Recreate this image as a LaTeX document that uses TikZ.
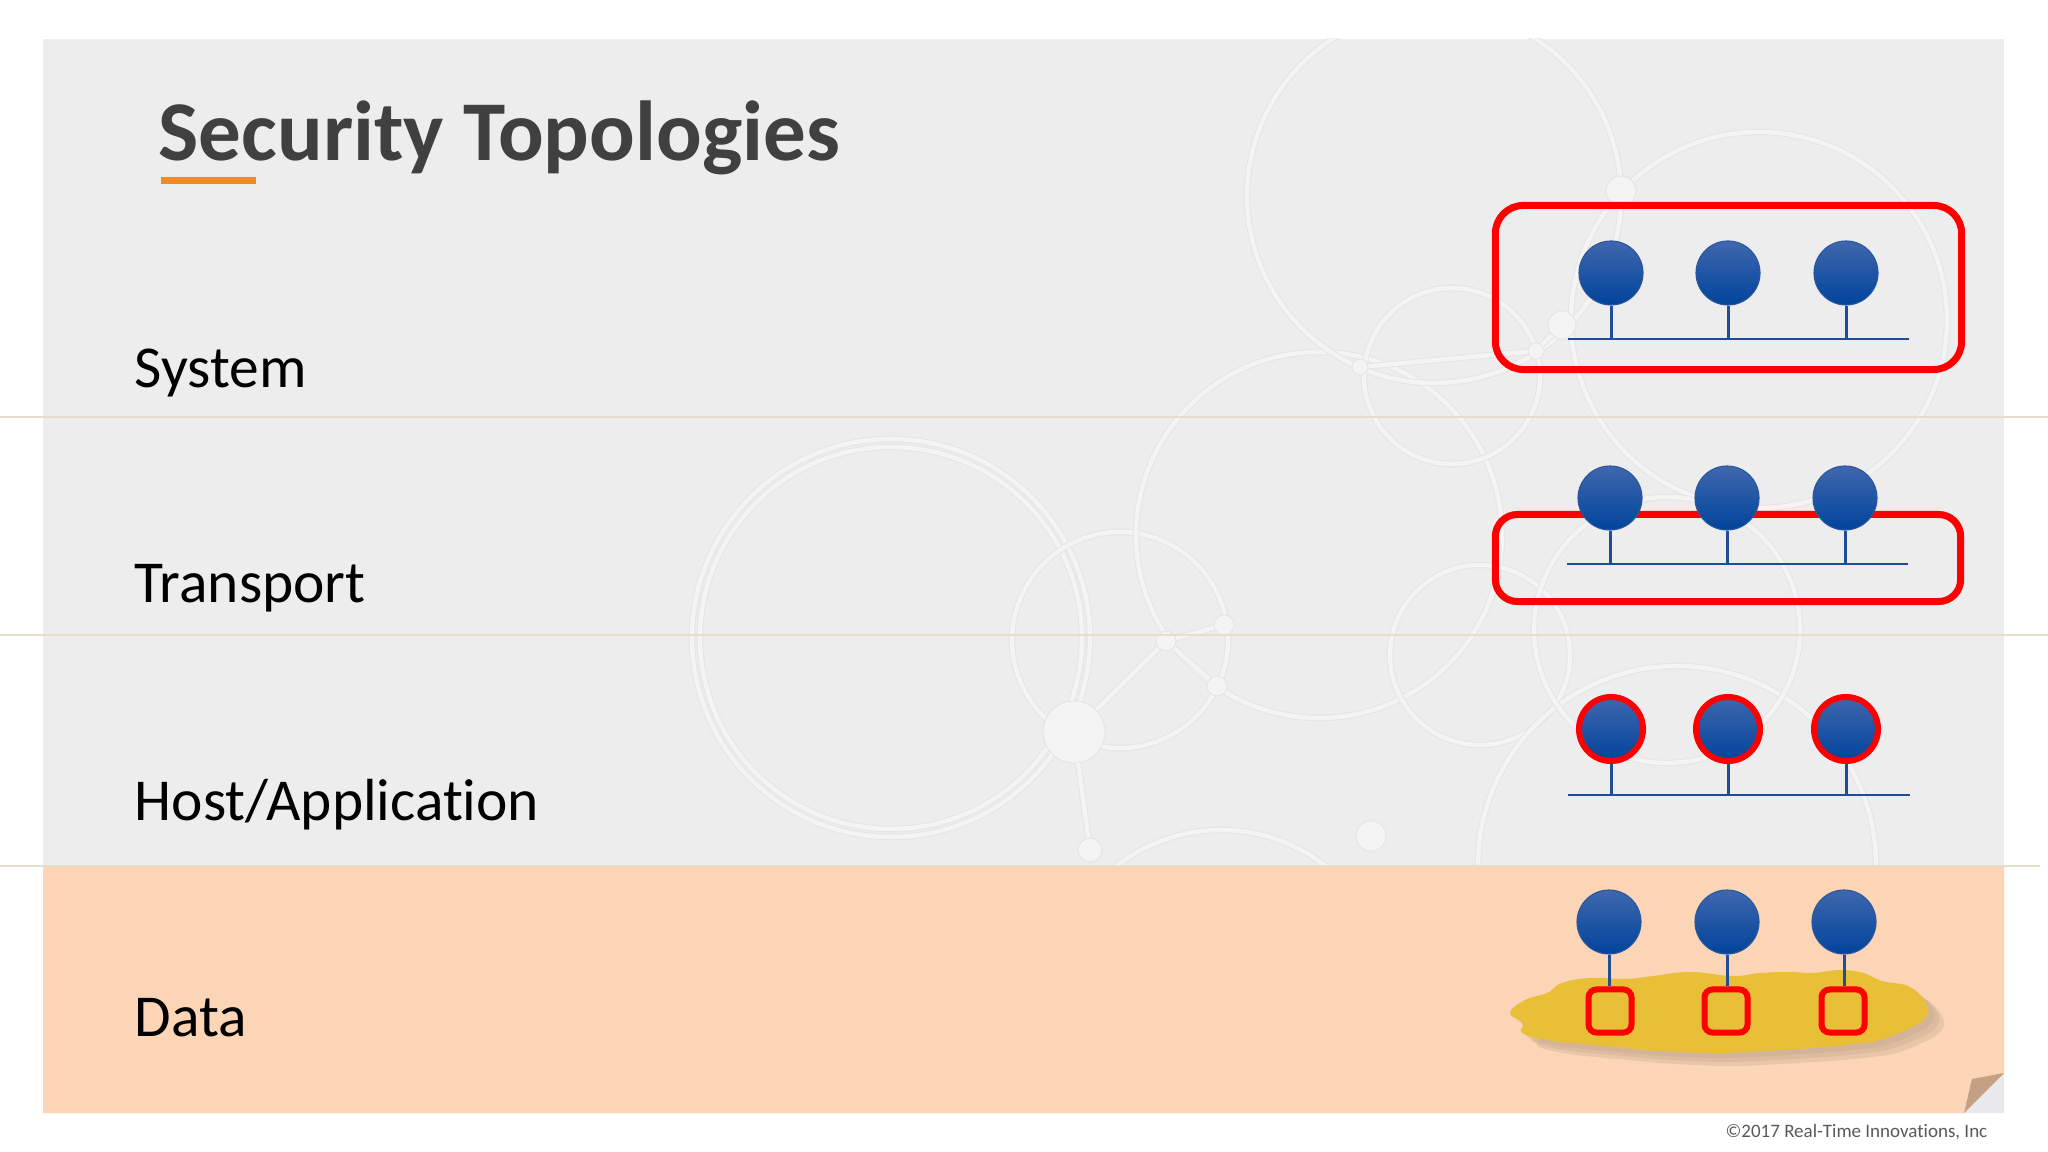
\documentclass[tikz,border=0pt]{standalone}
\usepackage{fontspec}
\setmainfont[Ligatures={NoCommon}]{Carlito}
\definecolor{panelgray}{HTML}{EDEDEE}
\definecolor{peach}{HTML}{FBD5B5}
\definecolor{sepline}{HTML}{E6DEC8}
\definecolor{titlegray}{HTML}{404040}
\definecolor{accentorange}{HTML}{F08A24}
\definecolor{netred}{HTML}{FF0000}
\definecolor{nodetop}{HTML}{4067AE}
\definecolor{nodebot}{HTML}{00449B}
\definecolor{nodeedge}{HTML}{2A56A0}
\definecolor{busblue}{HTML}{1F4E96}
\definecolor{blobyellow}{HTML}{E8BF36}
\definecolor{blobshadow}{HTML}{C2A48C}
\definecolor{decoband}{HTML}{F4F4F5}
\definecolor{decoedge}{HTML}{E4E4E6}
\definecolor{curlgray}{HTML}{E9E9EB}
\definecolor{curltan}{HTML}{C4A184}
\definecolor{copygray}{HTML}{595959}
\begin{document}
\begin{tikzpicture}[x=0.01cm,y=-0.01cm,
  deco/.style={draw=decoedge, line width=0.25pt, double=decoband, double distance=0.045cm},
  decodot/.style={circle, inner sep=0, fill=decoband, draw=decoedge, line width=0.25pt},
  layerlabel/.style={anchor=base west, inner sep=0, font=\fontsize{16.9}{20}\selectfont, text=black},
  hostnode/.style={circle, minimum size=0.64cm, inner sep=0, top color=nodetop, bottom color=nodebot, draw=nodeedge, line width=0.3pt},
  ringnode/.style={hostnode, draw=netred, line width=0.06cm},
  busline/.style={draw=busblue, line width=0.85pt},
  redbox/.style={draw=netred, line width=0.07cm, inner sep=0},
  datasq/.style={draw=netred, line width=0.06cm, rounded corners=0.08cm, minimum size=0.43cm, inner sep=0}
]
\useasboundingbox (0,0) rectangle (2048,1152);
\fill[white] (0,0) rectangle (2048,1152);
% panel
\fill[panelgray] (43,39) rectangle (2004,867);
% decorative network in background
\begin{scope}
\clip (43,39) rectangle (2004,867);
\draw[deco] (891,638) circle [radius=199];
\draw[deco] (891,638) circle [radius=191];
\draw[deco] (1120,640) circle [radius=108];
\draw[deco] (1319,535) circle [radius=183];
\draw[deco] (1434,196) circle [radius=187];
\draw[deco] (1759,320) circle [radius=188];
\draw[deco] (1452,376) circle [radius=88];
\draw[deco] (1480,655) circle [radius=90];
\draw[deco] (1677,865) circle [radius=199];
\draw[deco] (1221,1000) circle [radius=170];
\draw[deco] (1667,630) circle [radius=133];
\node[decodot, minimum size=0.62cm] (d1) at (1074,732) {};
\node[decodot, minimum size=0.2cm] (d2) at (1166,641) {};
\node[decodot, minimum size=0.2cm] (d3) at (1224,625) {};
\node[decodot, minimum size=0.2cm] (d4) at (1217,686) {};
\node[decodot, minimum size=0.24cm] (d5) at (1090,850) {};
\node[decodot, minimum size=0.3cm] (d6) at (1621,191) {};
\node[decodot, minimum size=0.28cm] (d7) at (1562,325) {};
\node[decodot, minimum size=0.16cm] (d8) at (1536,351) {};
\node[decodot, minimum size=0.16cm] (d9) at (1360,367) {};
\node[decodot, minimum size=0.3cm] (d10) at (1371,836) {};
\draw[deco] (d1) -- (d2);
\draw[deco] (d2) -- (d3);
\draw[deco] (d2) -- (d4);
\draw[deco] (d1) -- (d5);
\draw[deco] (d7) -- (d8);
\draw[deco] (d8) -- (d9);
\end{scope}
% data band
\fill[peach] (43,867) -- (2004,867) -- (2004,1073) -- (1964,1113) -- (43,1113) -- cycle;
\fill[curlgray] (1964,1113) -- (2004,1073) -- (2004,1113) -- cycle;
\fill[curltan] (1964,1113) -- (1972,1079) -- (2004,1073) -- cycle;
% separators
\draw[sepline, line width=0.6pt] (0,417) -- (2048,417);
\draw[sepline, line width=0.6pt] (0,635) -- (2048,635);
\draw[sepline, line width=0.6pt] (0,866) -- (2040,866);
% title
\node[anchor=base west, inner sep=0, font=\fontsize{24.2}{29}\selectfont\bfseries, text=titlegray] (title) at (158,161) {Security Topologies};
\fill[accentorange] (161,177) rectangle (256,184);
% layer labels
\node[layerlabel] (lsys) at (134,388) {System};
\node[layerlabel] (ltra) at (134,603) {Transport};
\node[layerlabel] (lhost) at (134,820) {Host/Application};
\node[layerlabel] (ldata) at (134,1036) {Data};
% System row
\node[redbox, rounded corners=0.28cm, minimum width=4.66cm, minimum height=1.64cm] (sysbox) at (1728.5,287.5) {};
\coordinate (sbusL) at (1568,339);
\coordinate (sbusR) at (1909,339);
\draw[busline] (sbusL) -- (sbusR);
\node[hostnode] (s1) at (1611,273) {};
\node[hostnode] (s2) at (1728,273) {};
\node[hostnode] (s3) at (1846,273) {};
\foreach \n in {s1,s2,s3} \draw[busline] (\n.south) -- (\n.south |- sbusL);
% Transport row
\node[redbox, rounded corners=0.22cm, minimum width=4.65cm, minimum height=0.87cm] (trabox) at (1728,558) {};
\coordinate (tbusL) at (1567,564);
\coordinate (tbusR) at (1908,564);
\draw[busline] (tbusL) -- (tbusR);
\node[hostnode] (t1) at (1610,498) {};
\node[hostnode] (t2) at (1727,498) {};
\node[hostnode] (t3) at (1845,498) {};
\foreach \n in {t1,t2,t3} \draw[busline] (\n.south) -- (\n.south |- tbusL);
% Host row
\coordinate (hbusL) at (1568,795);
\coordinate (hbusR) at (1910,795);
\draw[busline] (hbusL) -- (hbusR);
\node[ringnode] (h1) at (1611,729) {};
\node[ringnode] (h2) at (1728,729) {};
\node[ringnode] (h3) at (1846,729) {};
\foreach \n in {h1,h2,h3} \draw[busline] (\n.south) -- (\n.south |- hbusL);
% Data row: blob with shadow
\def\blobpts{(1510,1013) (1525,1000) (1547,993) (1562,983) (1590,978) (1625,979) (1653,976) (1690,972) (1733,976) (1760,973) (1790,972) (1813,973) (1840,970) (1863,973) (1882,981) (1910,987) (1927,1005) (1925,1018) (1910,1028) (1880,1040) (1847,1045) (1813,1048) (1780,1050) (1747,1052) (1713,1053) (1680,1052) (1645,1050) (1613,1047) (1580,1044) (1547,1040) (1522,1033) (1523,1023)}
\foreach \dx/\dy in {6/5,11/9,16/13} {
  \fill[blobshadow, opacity=0.3, shift={(\dx,\dy)}] plot[smooth cycle, tension=0.7] coordinates {\blobpts};
}
\fill[blobyellow] plot[smooth cycle, tension=0.7] coordinates {\blobpts};
\node[hostnode] (c1) at (1609,922) {};
\node[hostnode] (c2) at (1727,922) {};
\node[hostnode] (c3) at (1844,922) {};
\node[datasq] (q1) at (1610,1011) {};
\node[datasq] (q2) at (1726,1011) {};
\node[datasq] (q3) at (1843,1011) {};
\draw[busline] (c1.south) -- (c1.south |- q1.north);
\draw[busline] (c2.south) -- (c2.south |- q2.north);
\draw[busline] (c3.south) -- (c3.south |- q3.north);
% copyright
\node[anchor=base east, inner sep=0, font=\fontsize{5.4}{6.5}\selectfont, text=copygray] (copy) at (1988,1137) {©2017 Real-Time Innovations, Inc};
\end{tikzpicture}
\end{document}
